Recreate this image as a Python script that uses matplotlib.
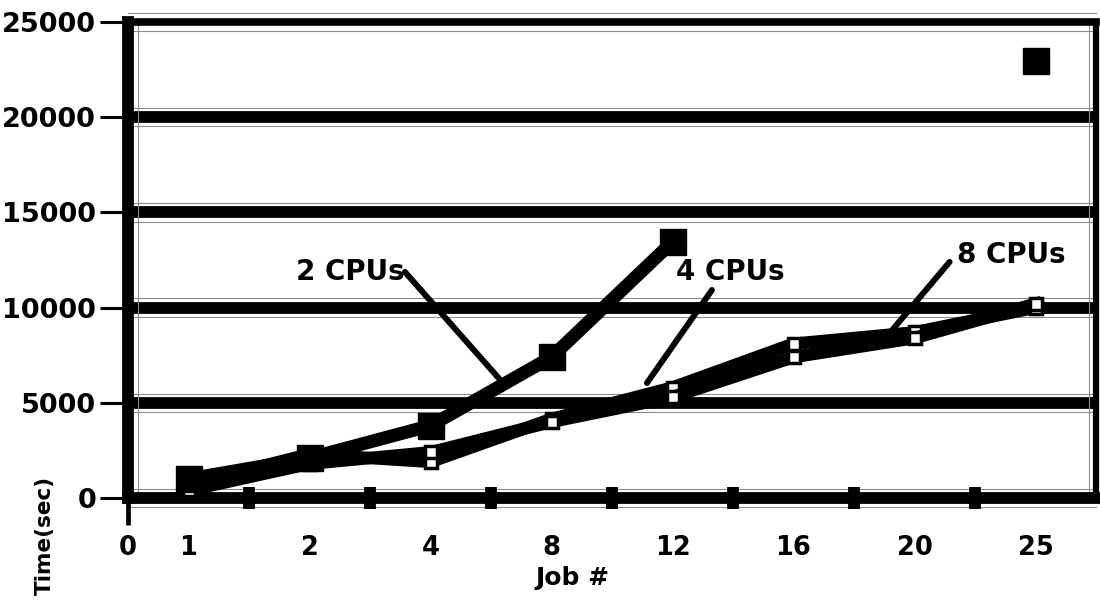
import matplotlib.pyplot as plt
import numpy as np

# job counts on the x axis, one slot each
jobs = ['1', '2', '4', '8', '12', '16', '20', '25']

# run time in seconds per CPU count (nan = no run for that job count)
cpu2_time = [1000, 2100, 3800, 7400, 13450, np.nan, np.nan, 22950]
cpu4_time = [700, 2300, 1900, 4150, 5800, 8100, 8700, 10000]
cpu8_time = [400, 1800, 2400, 4000, 5300, 7400, 8400, 10200]

y_ticks = [0, 5000, 10000, 15000, 20000, 25000]

plt.rcParams['font.family'] = ['DejaVu Sans']
plt.rcParams['font.weight'] = 'bold'

fig = plt.figure(figsize=(11, 6.05), dpi=100)
ax = fig.add_axes([128 / 1100, 107 / 605, 968 / 1100, 476 / 605])

x = np.arange(len(jobs)) + 0.5

# heavy black gridlines with a thin grey edge above and below each one
for y in y_ticks[1:-1]:
    ax.axhline(y, color='black', lw=8.5, zorder=1)
for y in y_ticks:
    ax.axhline(y - 480, color='0.55', lw=0.8, zorder=1, clip_on=False)
    ax.axhline(y + 480, color='0.55', lw=0.8, zorder=1, clip_on=False)
ax.axvline(0.085, color='0.55', lw=0.8, zorder=1)
ax.axvline(len(jobs) - 0.06, color='0.55', lw=0.8, zorder=1)

# the three series
ax.plot(x, cpu4_time, color='black', lw=9, marker='s', ms=9,
        mfc='white', mec='black', mew=2.5, zorder=3)
ax.plot(x, cpu8_time, color='black', lw=9, marker='s', ms=9,
        mfc='white', mec='black', mew=2.5, zorder=3)
ax.plot(x, cpu2_time, color='black', lw=9.5, marker='s', ms=19, zorder=4)

# frame
ax.spines['left'].set_linewidth(8.5)
ax.spines['bottom'].set_linewidth(8.5)
ax.spines['top'].set_linewidth(5.5)
ax.spines['right'].set_linewidth(4.5)

ax.set_xlim(0, len(jobs))
ax.set_ylim(0, 25000)

# x axis: "0" at the origin, job labels centred in their slots,
# chunky marks on the slot boundaries
ax.set_xticks(np.concatenate([[0], x]))
ax.set_xticklabels(['0'] + jobs)
ax.set_xticks(np.arange(1, len(jobs)), minor=True)
ax.tick_params(axis='x', which='major', direction='out', length=19.5,
               width=3.4, pad=7, labelsize=18.5)
ax.tick_params(axis='x', which='minor', direction='inout', length=16.5,
               width=8.5)
for t in ax.xaxis.get_major_ticks()[1:]:
    t.tick1line.set_visible(False)

ax.set_yticks(y_ticks)
ax.tick_params(axis='y', direction='out', length=20, width=2.2, pad=3,
               labelsize=19.5)

# series labels with pointer lines
series_labels = ['2 CPUs', '4 CPUs', '8 CPUs']
label_pos = [(1.835, 11870), (4.975, 11870), (7.30, 12760)]
pointer_from = [(2.289, 11870), (4.826, 10925), (6.79, 12400)]
pointer_to = [(3.099, 6040), (4.289, 6040), (6.281, 8560)]
for lab, pos, p0, p1 in zip(series_labels, label_pos, pointer_from, pointer_to):
    ax.text(pos[0], pos[1], lab, ha='center', va='center', fontsize=20,
            zorder=6)
    ax.annotate('', xy=p1, xytext=p0,
                arrowprops=dict(arrowstyle='-', lw=4.3, color='black',
                                shrinkA=0, shrinkB=0, capstyle='round'),
                zorder=5)

fig.text(45 / 1100, 1 - 535 / 605, 'Time(sec)', rotation=90,
         ha='center', va='center', fontsize=15.5)
fig.text(573 / 1100, 1 - 578 / 605, 'Job #', ha='center', va='center',
         fontsize=18)

fig.savefig('out.png', dpi=100)
